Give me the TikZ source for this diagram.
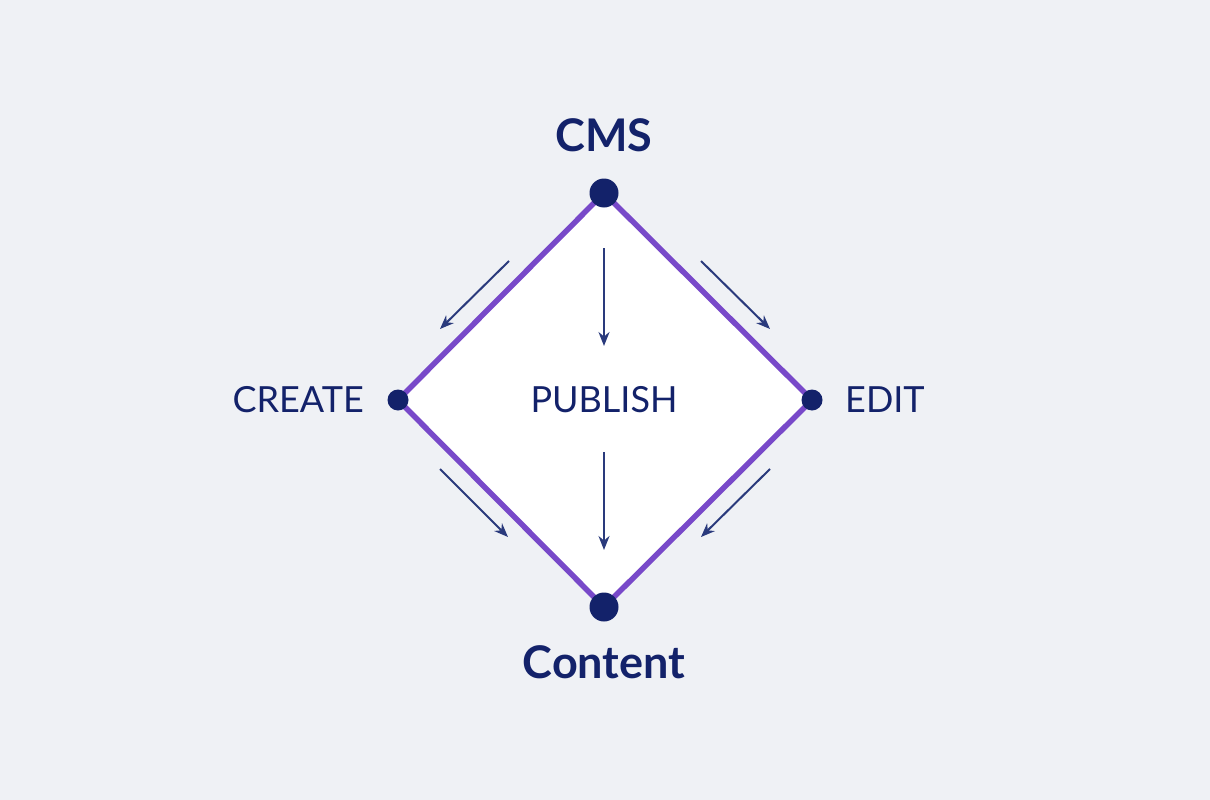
\documentclass[tikz,border=0pt]{standalone}
\usepackage{fontspec}
\setmainfont{Lato}
\usetikzlibrary{arrows.meta}
\definecolor{bgc}{HTML}{EFF1F5}
\definecolor{navy}{HTML}{13226A}
\definecolor{purp}{HTML}{7849C9}
\definecolor{arr}{HTML}{2A3A7C}
\tikzset{
  lbl/.style={text=navy,font=\fontsize{36}{40}\selectfont,inner sep=0pt},
  blbl/.style={text=navy,font=\fontsize{45}{50}\selectfont\bfseries,inner sep=0pt},
  flow/.style={draw=arr,line width=2pt,-{Stealth[length=14pt,width=11pt]}},
  bigdot/.style={circle,fill=navy,minimum size=29pt,inner sep=0pt},
  smalldot/.style={circle,fill=navy,minimum size=21pt,inner sep=0pt}
}
\begin{document}
\begin{tikzpicture}[x=1pt,y=-1pt]
\fill[bgc] (0,0) rectangle (1210,800);
\useasboundingbox (0,0) rectangle (1210,800);
\coordinate (T) at (604,193);
\coordinate (L) at (398,400);
\coordinate (R) at (812,400);
\coordinate (B) at (604,607);
\filldraw[fill=white,draw=purp,line width=5.5pt,line join=miter] (T) -- (R) -- (B) -- (L) -- cycle;
\node[bigdot] (top) at (T) {};
\node[bigdot] (bot) at (B) {};
\node[smalldot] (lft) at (L) {};
\node[smalldot] (rgt) at (R) {};
\node[blbl] (cms) at (604,135) {CMS};
\node[blbl] (content) at (604,662) {Content};
\node[lbl,anchor=east] (create) at (364,400) {CREATE};
\node[lbl,anchor=west] (edit) at (845,400) {EDIT};
\node[lbl] (publish) at (604,400) {PUBLISH};
\coordinate (a1s) at (509,261); \coordinate (a1e) at (440,329);
\coordinate (a2s) at (604,248); \coordinate (a2e) at (604,346);
\coordinate (a3s) at (701,261); \coordinate (a3e) at (770,329);
\coordinate (a4s) at (440,469); \coordinate (a4e) at (508,537);
\coordinate (a5s) at (604,452); \coordinate (a5e) at (604,550);
\coordinate (a6s) at (770,469); \coordinate (a6e) at (701,537);
\draw[flow] (a1s) -- (a1e);
\draw[flow] (a2s) -- (a2e);
\draw[flow] (a3s) -- (a3e);
\draw[flow] (a4s) -- (a4e);
\draw[flow] (a5s) -- (a5e);
\draw[flow] (a6s) -- (a6e);
\end{tikzpicture}
\end{document}
